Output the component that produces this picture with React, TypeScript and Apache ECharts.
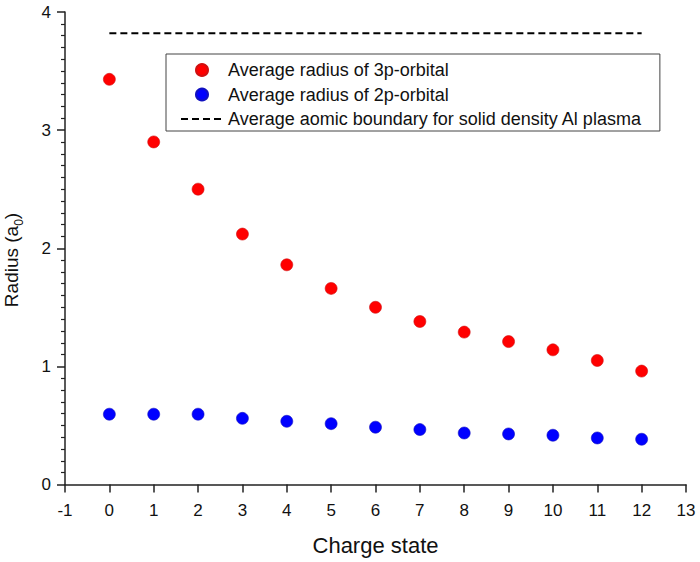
import React, { useEffect, useRef } from "react";
import * as echarts from "echarts";

const chargeStates = [0, 1, 2, 3, 4, 5, 6, 7, 8, 9, 10, 11, 12];
const radius3p = [3.43, 2.9, 2.5, 2.12, 1.86, 1.66, 1.5, 1.38, 1.29, 1.21, 1.14, 1.05, 0.96];
const radius2p = [0.595, 0.595, 0.595, 0.56, 0.535, 0.515, 0.485, 0.465, 0.436, 0.428, 0.417, 0.394, 0.383];
const boundaryX = [0, 12];
const boundaryValue = 3.82;

const name3p = "Average radius of 3p-orbital";
const name2p = "Average radius of 2p-orbital";
const nameBoundary = "Average aomic boundary for solid density Al plasma";

const FONT = "'Liberation Sans', Arial, sans-serif";

export default function App() {
  const ref = useRef<HTMLDivElement>(null);
  useEffect(() => {
    if (!ref.current) return;
    const chart = echarts.init(ref.current, null, { renderer: "svg" });
    const axisColor = "#222";
    chart.setOption({
      animation: false,
      backgroundColor: "#fff",
      textStyle: { fontFamily: FONT },
      grid: { left: 65, right: 14, top: 12, bottom: 77.5 },
      xAxis: {
        type: "value",
        min: -1,
        max: 13,
        interval: 1,
        name: "Charge state",
        nameLocation: "middle",
        nameGap: 50,
        nameTextStyle: { fontSize: 22, color: "#111", fontFamily: FONT },
        axisLine: { show: true, onZero: false, lineStyle: { color: axisColor, width: 1.5 } },
        axisTick: { show: true, inside: false, length: 8, lineStyle: { color: axisColor, width: 1.5 } },
        axisLabel: { fontSize: 17, color: "#111", margin: 17, fontFamily: FONT },
        splitLine: { show: false },
      },
      yAxis: {
        type: "value",
        min: 0,
        max: 4,
        interval: 1,
        axisLine: { show: true, onZero: false, lineStyle: { color: axisColor, width: 1.5 } },
        axisTick: { show: true, inside: false, length: 8, lineStyle: { color: axisColor, width: 1.5 } },
        minorTick: { show: true, splitNumber: 10, length: 4, lineStyle: { color: axisColor, width: 1.2 } },
        axisLabel: { fontSize: 17, color: "#111", margin: 14, fontFamily: FONT },
        splitLine: { show: false },
        minorSplitLine: { show: false },
      },
      legend: {
        orient: "vertical",
        left: 166,
        top: 54,
        padding: [7, 18, 3, 14],
        itemGap: 6.5,
        itemWidth: 42,
        itemHeight: 12,
        borderColor: "#444",
        borderWidth: 1,
        borderRadius: 0,
        backgroundColor: "#fff",
        textStyle: { fontSize: 18, color: "#111", fontFamily: FONT, lineHeight: 17 },
        data: [
          { name: name3p, icon: "circle" },
          { name: name2p, icon: "circle" },
          {
            name: nameBoundary,
            itemStyle: { opacity: 0 },
            lineStyle: { color: "#000", width: 2, type: [7, 4], opacity: 1 },
          },
        ],
      },
      graphic: [
        {
          type: "text",
          x: 13,
          y: 260,
          rotation: Math.PI / 2,
          style: {
            text: "{a|Radius (a}{s|0}{a|)}",
            align: "center",
            verticalAlign: "middle",
            fill: "#111",
            rich: {
              a: { fontSize: 19, fontFamily: FONT, verticalAlign: "top", lineHeight: 23, fill: "#111" },
              s: { fontSize: 12, fontFamily: FONT, verticalAlign: "bottom", lineHeight: 8, fill: "#111" },
            },
          },
        },
      ],
      series: [
        {
          name: nameBoundary,
          type: "line",
          data: boundaryX.map((x) => [x, boundaryValue]),
          symbol: "none",
          lineStyle: { color: "#000", width: 2, type: [7, 4] },
          itemStyle: { color: "#000" },
          z: 1,
        },
        {
          name: name3p,
          type: "scatter",
          data: chargeStates.map((x, i) => [x, radius3p[i]]),
          symbol: "circle",
          symbolSize: 12,
          itemStyle: { color: "#ff0000", borderColor: "#d01010", borderWidth: 0.6, opacity: 1 },
          z: 3,
        },
        {
          name: name2p,
          type: "scatter",
          data: chargeStates.map((x, i) => [x, radius2p[i]]),
          symbol: "circle",
          symbolSize: 12,
          itemStyle: { color: "#0000ff", borderColor: "#1010c0", borderWidth: 0.6, opacity: 1 },
          z: 3,
        },
      ],
    });
    return () => chart.dispose();
  }, []);
  return (
    <div
      ref={ref}
      style={{ position: "absolute", left: 0, top: 0, width: 700, height: 562, background: "#fff" }}
    />
  );
}
